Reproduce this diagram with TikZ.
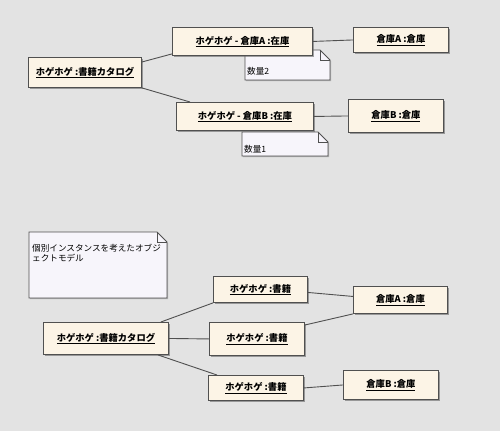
\documentclass[tikz,border=0pt]{standalone}
\usepackage{fontspec}
\newfontfamily\jp{Noto Sans CJK JP}
\usetikzlibrary{calc,shadows}
\definecolor{bgcol}{HTML}{E3E3E3}
\definecolor{boxfill}{HTML}{FCF4E6}
\definecolor{boxline}{HTML}{505050}
\definecolor{notefill}{HTML}{F7F5FB}
\definecolor{linecol}{HTML}{505050}
\newcommand\mynote[4]{%
  \filldraw[notestyle] (#1,#2) -- ({#3-10},#2) -- (#3,{#2+10}) -- (#3,#4) -- (#1,#4) -- cycle;
  \draw[notefold] ({#3-10},#2) -- ({#3-10},{#2+10}) -- (#3,{#2+10});}
\begin{document}
\begin{tikzpicture}[x=1pt,y=-1pt,
  obj/.style={draw=boxline, fill=boxfill, line width=0.9pt, anchor=north west, inner sep=0pt,
    font=\jp\bfseries\fontsize{9.3}{10}\selectfont,
    drop shadow={shadow xshift=1.2pt, shadow yshift=-1.2pt, fill=black!60, opacity=0.6}},
  notestyle/.style={draw=boxline, fill=notefill, line width=0.8pt,
    drop shadow={shadow xshift=1pt, shadow yshift=-1pt, fill=black!50, opacity=0.5}},
  notefold/.style={draw=boxline, line width=0.6pt},
  notetext/.style={font=\jp\fontsize{8.6}{10}\selectfont, inner sep=0pt, align=left},
  link/.style={draw=linecol, line width=0.9pt}]
\fill[bgcol] (0,0) rectangle (500,431);
\useasboundingbox (0,0) rectangle (500,431);

% ---- top diagram ----
\mynote{245}{50}{330}{80}
\node[notetext, anchor=west] (q2) at (247,71) {数量2};
\mynote{242}{132}{328}{156}
\node[notetext, anchor=west] (q1) at (244,149) {数量1};

\node[obj, minimum width=113pt, minimum height=30pt] (cat) at (28,57) {\underline{ホゲホゲ :書籍カタログ}};
\node[obj, minimum width=140pt, minimum height=28pt] (stA) at (172,27) {\underline{ホゲホゲ - 倉庫A :在庫}};
\node[obj, minimum width=137pt, minimum height=28pt] (stB) at (176,102) {\underline{ホゲホゲ - 倉庫B :在庫}};
\node[obj, minimum width=95pt, minimum height=25pt] (whA) at (353,27) {\underline{倉庫A :倉庫}};
\node[obj, minimum width=95pt, minimum height=33pt] (whB) at (348,99) {\underline{倉庫B :倉庫}};

\draw[link] ($(cat.north east)+(0,5)$) -- ($(stA.south west)+(0,-2)$);
\draw[link] (cat.south east) -- ($(stB.north west)+(14,0)$);
\draw[link] (stA.east) -- (whA.west);
\draw[link] (stB.east) -- (whB.west);

% ---- bottom diagram ----
\mynote{29}{232}{167}{298}
\node[notetext, anchor=north west] (memo) at (32,244) {個別インスタンスを考えたオブジ\\ェクトモデル};

\node[obj, minimum width=125pt, minimum height=32pt] (cat2) at (43,322) {\underline{ホゲホゲ :書籍カタログ}};
\node[obj, minimum width=94pt, minimum height=26pt] (bk1) at (213,276) {\underline{ホゲホゲ :書籍}};
\node[obj, minimum width=95pt, minimum height=33pt] (bk2) at (209,322) {\underline{ホゲホゲ :書籍}};
\node[obj, minimum width=95pt, minimum height=25pt] (bk3) at (208,375) {\underline{ホゲホゲ :書籍}};
\node[obj, minimum width=94pt, minimum height=27pt] (whA2) at (353,286) {\underline{倉庫A :倉庫}};
\node[obj, minimum width=95pt, minimum height=29pt] (whB2) at (343,370) {\underline{倉庫B :倉庫}};

\draw[link] ($(cat2.north east)+(-8,0)$) -- (bk1.south west);
\draw[link] (cat2.east) -- (bk2.west);
\draw[link] ($(cat2.south east)+(-11,0)$) -- ($(bk3.north west)+(9,0)$);
\draw[link] ($(bk1.east)+(0,3)$) -- ($(whA2.west)+(0,-3.5)$);
\draw[link] ($(bk2.north east)+(0,3)$) -- (whA2.south west);
\draw[link] (bk3.east) -- (whB2.west);
\end{tikzpicture}
\end{document}
